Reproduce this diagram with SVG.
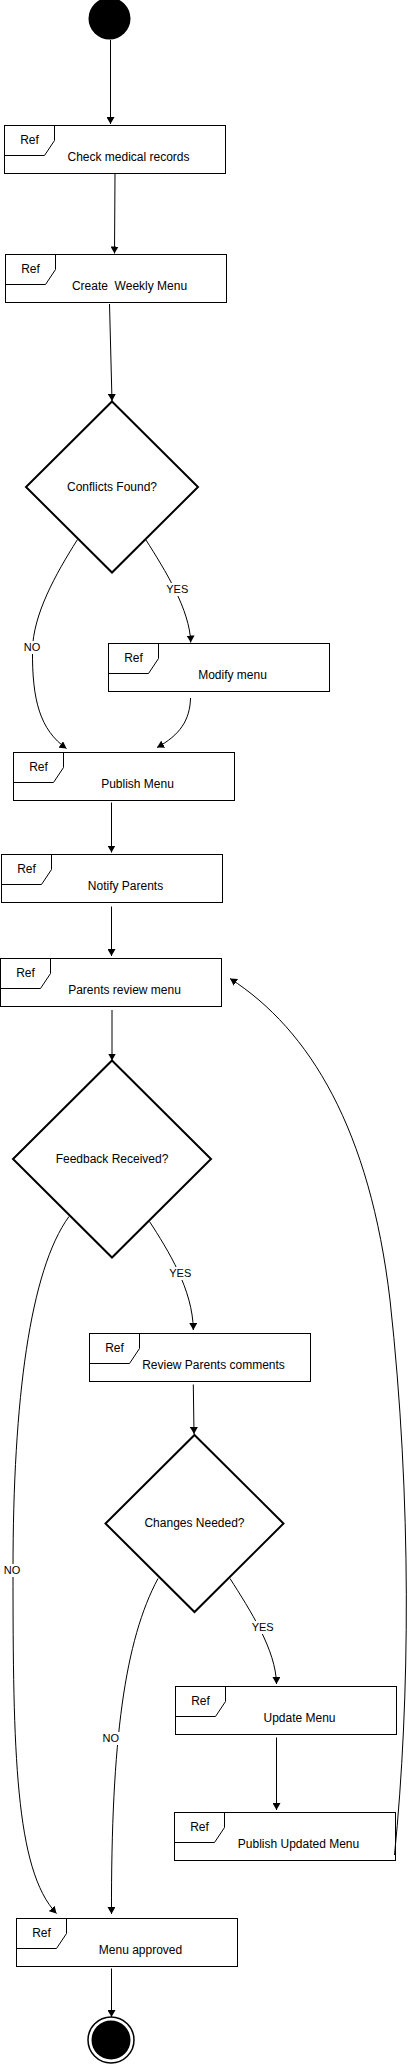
<svg xmlns="http://www.w3.org/2000/svg" width="410" height="2065" viewBox="0 0 410 2065">
<style>
.box{fill:#fff;stroke:#000;stroke-width:1}
.tab{fill:none;stroke:#000;stroke-width:1}
.dia{fill:#fff;stroke:#000;stroke-width:2}
text{font-family:"Liberation Sans",Arial,Helvetica,sans-serif;font-size:12px;fill:#000;text-anchor:middle}
.el{font-size:11px}
.edge{fill:none;stroke:#000;stroke-width:1;marker-end:url(#arr)}
.lb{fill:#fff}
</style>
<defs>
<marker id="arr" markerWidth="8" markerHeight="8" refX="7" refY="4" orient="auto" markerUnits="userSpaceOnUse">
<path d="M0,0 L7,4 L0,8 z" fill="#000"/>
</marker>
</defs>

<g id="start"><circle cx="109.5" cy="18.5" r="21" fill="#000"/></g>

<g id="n-check" transform="translate(4.5,125.5)">
<rect class="box" width="221" height="48"/><path class="tab" d="M0,30 L40,30 L50,15 L50,0"/>
<text x="25" y="18">Ref</text><text x="124" y="35.7">Check medical records</text></g>

<g id="n-create" transform="translate(5.5,254.5)">
<rect class="box" width="221" height="48"/><path class="tab" d="M0,30 L40,30 L50,15 L50,0"/>
<text x="25" y="18">Ref</text><text x="124" y="35.7" xml:space="preserve">Create  Weekly Menu</text></g>

<g id="d-conflicts">
<polygon class="dia" points="112,401.5 198,487 112,572.5 26,487"/>
<text x="112" y="491">Conflicts Found?</text></g>

<g id="n-modify" transform="translate(108.5,643.5)">
<rect class="box" width="221" height="48"/><path class="tab" d="M0,30 L40,30 L50,15 L50,0"/>
<text x="25" y="18">Ref</text><text x="124" y="35.7">Modify menu</text></g>

<g id="n-publish" transform="translate(13.5,752.5)">
<rect class="box" width="221" height="48"/><path class="tab" d="M0,30 L40,30 L50,15 L50,0"/>
<text x="25" y="18">Ref</text><text x="124" y="35.7">Publish Menu</text></g>

<g id="n-notify" transform="translate(1.5,854.5)">
<rect class="box" width="221" height="48"/><path class="tab" d="M0,30 L40,30 L50,15 L50,0"/>
<text x="25" y="18">Ref</text><text x="124" y="35.7">Notify Parents</text></g>

<g id="n-review" transform="translate(0.5,958.5)">
<rect class="box" width="221" height="48"/><path class="tab" d="M0,30 L40,30 L50,15 L50,0"/>
<text x="25" y="18">Ref</text><text x="124" y="35.7">Parents review menu</text></g>

<g id="d-feedback">
<polygon class="dia" points="112,1060.5 211,1159 112,1257.5 13,1159"/>
<text x="112" y="1162.7">Feedback Received?</text></g>

<g id="n-comments" transform="translate(89.5,1333.5)">
<rect class="box" width="221" height="48"/><path class="tab" d="M0,30 L40,30 L50,15 L50,0"/>
<text x="25" y="18">Ref</text><text x="124" y="35.7">Review Parents comments</text></g>

<g id="d-changes">
<polygon class="dia" points="194.5,1435 283.5,1523.5 194.5,1612 105.5,1523.5"/>
<text x="194.5" y="1526.7">Changes Needed?</text></g>

<g id="n-update" transform="translate(175.5,1686.5)">
<rect class="box" width="221" height="48"/><path class="tab" d="M0,30 L40,30 L50,15 L50,0"/>
<text x="25" y="18">Ref</text><text x="124" y="35.7">Update Menu</text></g>

<g id="n-pubupd" transform="translate(174.5,1812.5)">
<rect class="box" width="221" height="48"/><path class="tab" d="M0,30 L40,30 L50,15 L50,0"/>
<text x="25" y="18">Ref</text><text x="124" y="35.7">Publish Updated Menu</text></g>

<g id="n-approved" transform="translate(16.5,1918.5)">
<rect class="box" width="221" height="48"/><path class="tab" d="M0,30 L40,30 L50,15 L50,0"/>
<text x="25" y="18">Ref</text><text x="124" y="35.7">Menu approved</text></g>

<g id="end">
<circle cx="111" cy="2040" r="23" fill="#fff" stroke="#000" stroke-width="1.5"/>
<circle cx="111" cy="2040" r="19.5" fill="#000"/></g>

<g id="connectors">
<path class="edge" d="M110.5,40 L110.5,124"/>
<path class="edge" d="M115,174 L114.5,253.5"/>
<path class="edge" d="M109.5,304 L112,401"/>
<path class="edge" d="M77.5,539.5 C55,575 33,615 32.5,650 C32,700 40,730 66.5,748.5"/>
<path class="edge" d="M146,540 C165,570 190,610 190.7,642.5"/>
<path class="edge" d="M190.5,698 C190,720 180,735 157,747.5"/>
<path class="edge" d="M111.5,802.5 L111.5,852.5"/>
<path class="edge" d="M111.5,906.5 L111.5,956"/>
<path class="edge" d="M112,1010 L112,1060.5"/>
<path class="edge" d="M149.5,1221.5 C168,1250 193,1290 193.3,1330"/>
<path class="edge" d="M69,1216.5 C30,1270 13,1400 13,1570 C13,1750 15,1870 56.5,1913.5"/>
<path class="edge" d="M193.3,1384.5 L194,1434"/>
<path class="edge" d="M158,1578.5 C125,1640 111,1740 111.5,1914"/>
<path class="edge" d="M230,1578.5 C250,1610 276,1650 276.5,1684"/>
<path class="edge" d="M276.5,1737.5 L276.5,1810"/>
<path class="edge" d="M394.5,1855 C410,1700 412,1500 390,1300 C370,1130 310,1030 230,978.5"/>
<path class="edge" d="M111.5,1968.5 L111.5,2017"/>
<rect class="lb" x="165" y="583" width="25" height="13"/><text class="el" x="177.3" y="593.3">YES</text>
<rect class="lb" x="22" y="641" width="20" height="13"/><text class="el" x="32" y="651">NO</text>
<rect class="lb" x="168" y="1267" width="25" height="13"/><text class="el" x="180.3" y="1277.3">YES</text>
<rect class="lb" x="2" y="1564" width="20" height="13"/><text class="el" x="12" y="1574">NO</text>
<rect class="lb" x="100.7" y="1732" width="20" height="13"/><text class="el" x="110.7" y="1742.3">NO</text>
<rect class="lb" x="250" y="1621" width="25" height="13"/><text class="el" x="262.7" y="1631">YES</text>
</g>
</svg>
